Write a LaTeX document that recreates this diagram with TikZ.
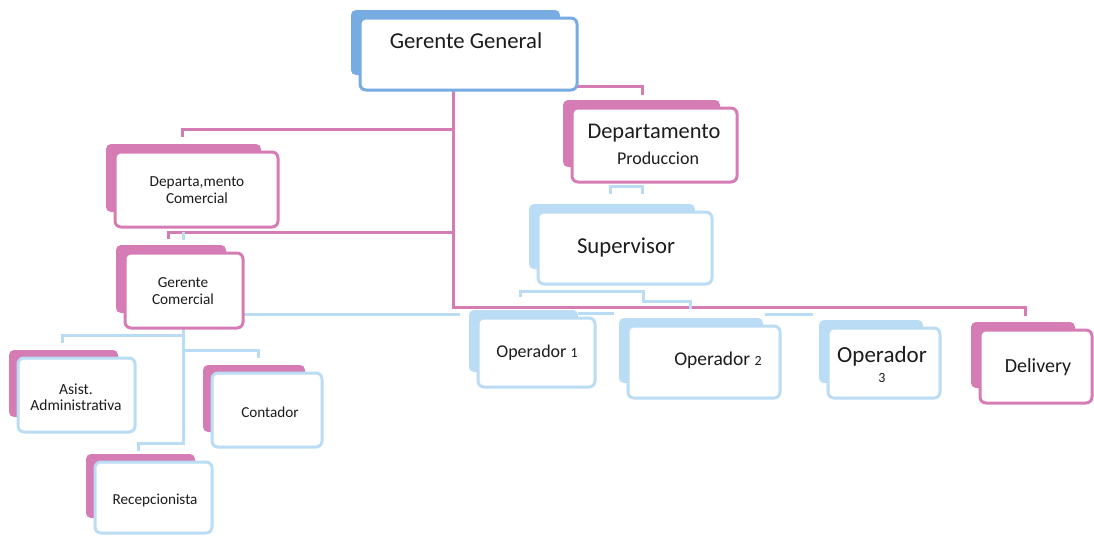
\documentclass[tikz,border=0pt]{standalone}
\usepackage{fontspec}
\setmainfont{Carlito}
\definecolor{gblue}{RGB}{118,172,226}
\definecolor{lblue}{RGB}{186,220,244}
\definecolor{pinkc}{RGB}{214,124,180}
\definecolor{txtc}{RGB}{28,28,28}
\tikzset{
  frontbox/.style={rectangle, rounded corners=6pt, fill=white, line width=3pt, inner sep=0pt, outer sep=0pt},
  txt/.style={text=txtc, align=center, inner sep=0pt},
  pinkline/.style={draw=pinkc, line width=3pt},
  blueline/.style={draw=lblue, line width=3pt},
}
% #1 name, #2 x1, #3 y1, #4 x2, #5 y2, #6 back colour, #7 front colour
\newcommand\orgbox[7]{%
  \fill[#6, rounded corners=5pt] ({#2-9},{#3-8}) rectangle ({#4-17},{#5-15});
  \node[frontbox, draw=#7, minimum width={#4-#2}, minimum height={#5-#3}] (#1) at ({(#2+#4)/2},{(#3+#5)/2}) {};
}
\begin{document}
\begin{tikzpicture}[x=1pt,y=-1pt]
\useasboundingbox (0,0) rectangle (1094,536);
\fill[white] (0,0) rectangle (1094,536);

% ---- connector coordinates
\coordinate (t0) at (453,90);
\coordinate (t1) at (453,307);
\coordinate (t2) at (1025,307);
\coordinate (t3) at (1025,316);
\coordinate (b1a) at (453,129);
\coordinate (b1b) at (182,129);
\coordinate (b1c) at (182,137);
\coordinate (b2a) at (453,232);
\coordinate (b2b) at (168,232);
\coordinate (b2c) at (168,239);
\coordinate (p1) at (577,86);
\coordinate (p2) at (642,86);
\coordinate (p3) at (642,95);

% ---- pink connectors
\draw[pinkline] (t0) -- (t1) -- (t2) -- (t3);
\draw[pinkline] (b1a) -- (b1b) -- (b1c);
\draw[pinkline] (b2a) -- (b2b) -- (b2c);
\draw[pinkline] (p1) -- (p2) -- (p3);

% ---- light blue connectors
\coordinate (d1) at (610,194);
\coordinate (d2) at (610,186);
\coordinate (d3) at (642,186);
\coordinate (d4) at (642,194);
\draw[blueline] (d1) -- (d2) -- (d3) -- (d4);
\coordinate (k1) at (183,232);
\coordinate (k2) at (183,240);
\draw[blueline] (k1) -- (k2);
\coordinate (g1) at (243,314);
\coordinate (g2) at (460,314);
\draw[blueline] (g1) -- (g2);
\coordinate (c1) at (62,343);
\coordinate (c2) at (62,335);
\coordinate (c3) at (183,335);
\coordinate (c4) at (183,443);
\coordinate (c5) at (138,443);
\coordinate (c6) at (138,451);
\coordinate (c7) at (183,350);
\coordinate (c8) at (258,350);
\coordinate (c9) at (258,358);
\coordinate (c0) at (183,328);
\draw[blueline] (c1) -- (c2) -- (c3);
\draw[blueline] (c0) -- (c4) -- (c5) -- (c6);
\draw[blueline] (c7) -- (c8) -- (c9);
\coordinate (s1) at (520,297);
\coordinate (s2) at (520,291);
\coordinate (s3) at (643,291);
\coordinate (s4) at (643,301);
\coordinate (s5) at (690,301);
\coordinate (s6) at (690,309);
\draw[blueline] (s1) -- (s2) -- (s3) -- (s4) -- (s5) -- (s6);
\coordinate (o1) at (578,313);
\coordinate (o2) at (614,313);
\draw[blueline] (o1) -- (o2);
\coordinate (o3) at (765,314);
\coordinate (o4) at (813,314);
\draw[blueline] (o3) -- (o4);

% ---- boxes
\orgbox{gg}{360}{18}{577}{90}{gblue}{gblue}
\orgbox{dp}{572}{108}{737}{182}{pinkc}{pinkc}
\orgbox{sup}{538}{212}{712}{284}{lblue}{lblue}
\orgbox{dc}{115}{152}{278}{227}{pinkc}{pinkc}
\orgbox{gc}{125}{253}{243}{328}{pinkc}{pinkc}
\orgbox{aa}{18}{358}{135}{432}{pinkc}{lblue}
\orgbox{co}{212}{373}{322}{447}{pinkc}{lblue}
\orgbox{re}{95}{462}{212}{533}{pinkc}{lblue}
\orgbox{op1}{478}{318}{595}{387}{lblue}{lblue}
\orgbox{op2}{628}{326}{780}{398}{lblue}{lblue}
\orgbox{op3}{828}{328}{940}{398}{lblue}{lblue}
\orgbox{de}{980}{330}{1092}{403}{pinkc}{pinkc}

% ---- texts
\node[txt, font=\fontsize{22.7}{26}\selectfont] (ggt) at (466,41) {Gerente General};
\node[txt, font=\fontsize{22.4}{26}\selectfont] (dpt1) at (654,133) {Departamento};
\node[txt, font=\fontsize{18}{22}\selectfont] (dpt2) at (658,158) {Produccion};
\node[txt, font=\fontsize{22.7}{26}\selectfont] (supt) at (626,248) {Supervisor};
\node[txt, font=\fontsize{15.3}{17}\selectfont] (dct) at (197,190) {Departa,mento\\Comercial};
\node[txt, font=\fontsize{15.3}{17}\selectfont] (gct) at (183,291) {Gerente\\Comercial};
\node[txt, font=\fontsize{15.5}{16}\selectfont] (aat) at (76,397) {Asist.\\Administrativa};
\node[txt, font=\fontsize{15.2}{17}\selectfont] (cot) at (270,412) {Contador};
\node[txt, font=\fontsize{15.2}{17}\selectfont] (ret) at (155,500) {Recepcionista};
\node[txt, font=\fontsize{18}{21}\selectfont] (op1t) at (537,353) {Operador {\fontsize{14}{16}\selectfont 1}};
\node[txt, font=\fontsize{19.5}{22}\selectfont] (op2t) at (718,360) {Operador {\fontsize{14}{16}\selectfont 2}};
\node[txt, font=\fontsize{23}{26}\selectfont] (op3t1) at (882,356) {Operador};
\node[txt, font=\fontsize{14}{16}\selectfont] (op3t2) at (882,378) {3};
\node[txt, font=\fontsize{20}{23}\selectfont] (det) at (1038,367) {Delivery};
\end{tikzpicture}
\end{document}
